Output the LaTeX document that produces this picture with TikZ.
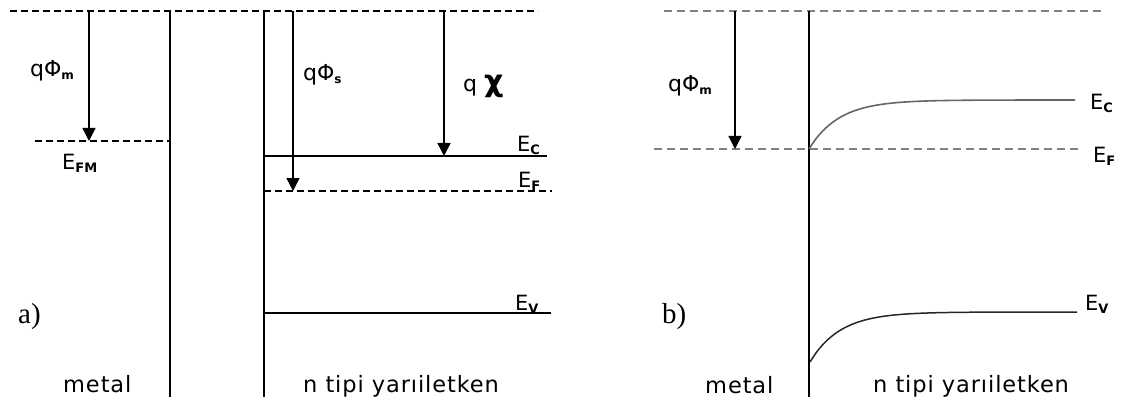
\documentclass[tikz,border=0pt]{standalone}
\usepackage{fontspec}
\setmainfont{DejaVu Sans}
\newfontfamily\serifA{Liberation Serif}
\usetikzlibrary{arrows.meta}
\newcommand{\Esb}[1]{E\raisebox{-3pt}{\fontsize{13}{13}\selectfont\bfseries #1}}
\newcommand{\qsb}[1]{\raisebox{-3pt}{\fontsize{12}{12}\selectfont\bfseries #1}}
\tikzset{
  ln/.style={line width=1.5pt},
  dsh/.style={line width=1.5pt, dash pattern=on 7pt off 4pt},
  gdsh/.style={line width=1.7pt, black!50, dash pattern=on 8pt off 5pt},
  arr/.style={line width=1.5pt, -{Triangle[width=13pt,length=13pt]}},
  lab/.style={inner sep=0pt, anchor=base west, font=\fontsize{22}{22}\selectfont},
  wlab/.style={lab, font=\fontsize{22.5}{22.5}\selectfont\addfontfeature{LetterSpace=4}},
  elab/.style={inner sep=0pt, anchor=base west, font=\fontsize{21}{21}\selectfont},
  plab/.style={inner sep=0pt, anchor=base west, font=\serifA\fontsize{29}{29}\selectfont}
}
\begin{document}
\begin{tikzpicture}[x=1pt,y=-1pt]
\useasboundingbox (0,0) rectangle (1132,401);
% ---------- panel a ----------
\coordinate (aVL) at (10,11);
\coordinate (aVR) at (538,11);
\draw[dsh] (aVL) -- (aVR);
\coordinate (aMT) at (170,11);
\coordinate (aMB) at (170,397);
\draw[ln] (aMT) -- (aMB);
\coordinate (aST) at (264,11);
\coordinate (aSB) at (264,397);
\draw[ln] (aST) -- (aSB);
\coordinate (aFML) at (35,141);
\coordinate (aFMR) at (170,141);
\draw[dsh] (aFML) -- (aFMR);
\coordinate (aECL) at (264,156);
\coordinate (aECR) at (547,156);
\draw[ln] (aECL) -- (aECR);
\coordinate (aEFL) at (264,191);
\coordinate (aEFR) at (552,191);
\draw[dsh] (aEFL) -- (aEFR);
\coordinate (aEVL) at (264,313);
\coordinate (aEVR) at (551,313);
\draw[ln] (aEVL) -- (aEVR);
\coordinate (aA1s) at (89,11);
\coordinate (aA1e) at (89,141);
\draw[arr] (aA1s) -- (aA1e);
\coordinate (aA2s) at (293,11);
\coordinate (aA2e) at (293,191);
\draw[arr] (aA2s) -- (aA2e);
\coordinate (aA3s) at (444,11);
\coordinate (aA3e) at (444,156);
\draw[arr] (aA3s) -- (aA3e);
\node[lab] (aqm) at (30,77) {qΦ\qsb{m}};
\node[lab] (aqs) at (303,81) {qΦ\qsb{s}};
\node[lab] (aqx) at (463,92) {q {\fontsize{30}{30}\selectfont\bfseries χ}};
\node[elab] (aefm) at (62,169) {\Esb{FM}};
\node[elab] (aec) at (517,151) {\Esb{C}};
\node[elab] (aef) at (518,187) {\Esb{F}};
\node[elab] (aev) at (515,310) {\Esb{V}};
\node[plab] (apa) at (18,323) {a)};
\node[wlab] (amet) at (63,392) {metal};
\node[wlab] (asem) at (303,392) {n tipi yarıiletken};
% ---------- panel b ----------
\coordinate (bVL) at (664,11);
\coordinate (bVR) at (1102,11);
\draw[gdsh] (bVL) -- (bVR);
\coordinate (bIT) at (809,11);
\coordinate (bIB) at (809,397);
\draw[ln] (bIT) -- (bIB);
\coordinate (bEFL) at (654,149);
\coordinate (bEFR) at (1078,149);
\draw[gdsh] (bEFL) -- (bEFR);
\coordinate (bAs) at (735,11);
\coordinate (bAe) at (735,149);
\draw[arr] (bAs) -- (bAe);
\draw[line width=1.6pt, black!60, domain=0:266, samples=80, smooth]
  plot ({809+\x},{100+49*exp(-\x/30)});
\draw[line width=1.5pt, black!85, domain=0:267, samples=80, smooth]
  plot ({810+\x},{312+50*exp(-\x/30)});
\node[lab] (bqm) at (668,92) {qΦ\qsb{m}};
\node[elab] (bec) at (1090,110) {\Esb{C}};
\node[elab] (bef) at (1093,162) {\Esb{F}};
\node[elab] (bev) at (1085,310) {\Esb{V}};
\node[plab] (bpb) at (662,323) {b)};
\node[wlab] (bmet) at (705,393) {metal};
\node[wlab] (bsem) at (873,392) {n tipi yarıiletken};
\end{tikzpicture}
\end{document}
